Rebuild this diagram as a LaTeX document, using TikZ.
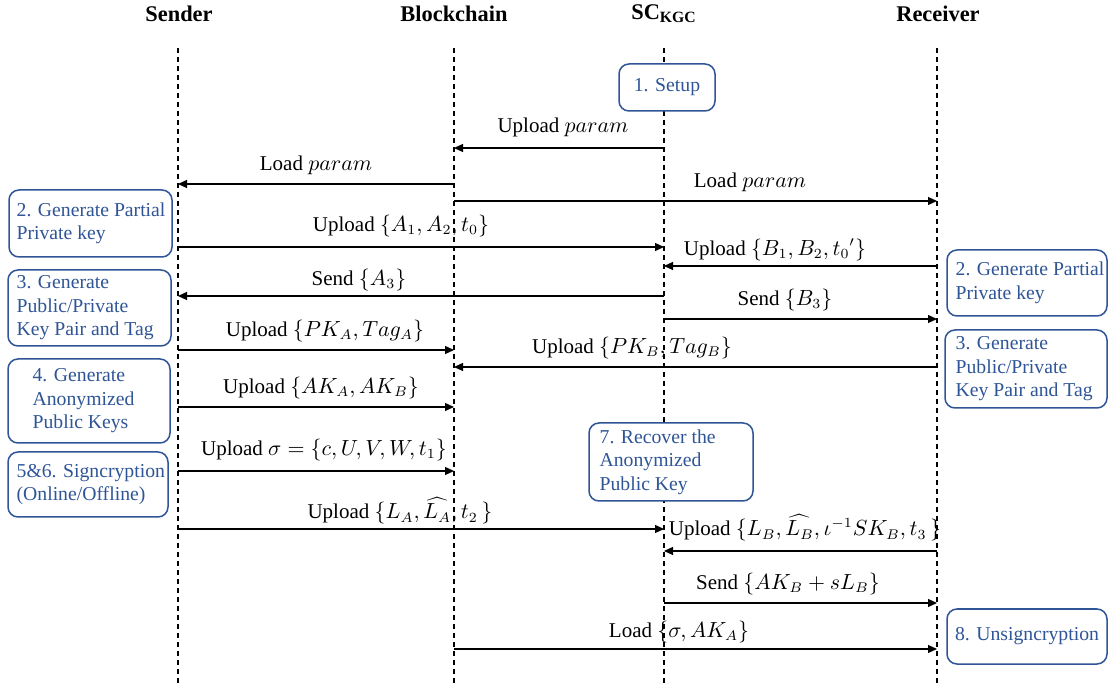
\documentclass[tikz,border=0pt]{standalone}
\usepackage{fontspec}
\setmainfont{Liberation Serif}
\usetikzlibrary{arrows.meta}
\definecolor{stepblue}{HTML}{2F5597}
\tikzset{
  head/.style={font=\fontsize{11.2}{13}\selectfont\bfseries, inner sep=0pt},
  life/.style={line width=0.6pt, dash pattern=on 2.5pt off 2pt},
  msg/.style={line width=0.6pt, -{Triangle[length=4.5pt,width=4pt]}},
  msglabel/.style={font=\fontsize{10.5}{12}\selectfont, inner sep=0pt},
  stepbox/.style={draw=stepblue, line width=0.75pt, rounded corners=5pt, fill=white,
    inner sep=0pt, text=stepblue, font=\fontsize{9.85}{11.75}\selectfont},
  steptext/.style={text=stepblue, font=\fontsize{9.85}{11.75}\selectfont, align=left,
    inner sep=0pt, anchor=west},
}
\begin{document}
\begin{tikzpicture}[x=0.5pt,y=-0.5pt]
\useasboundingbox (0,0) rectangle (1110,684);

% participants
\node[head] (snd) at (179,14) {Sender};
\node[head] (bc)  at (454,14) {Blockchain};
\node[head] (kgc) at (664,14) {SC\textsubscript{KGC}};
\node[head] (rcv) at (938,14) {Receiver};

% lifelines
\coordinate (sndL) at (178,0);
\coordinate (bcL)  at (454,0);
\coordinate (kgcL) at (664,0);
\coordinate (rcvL) at (937,0);
\foreach \p in {sndL,bcL,kgcL,rcvL}
  \draw[life] (\p |- 0,48) -- (\p |- 0,684);

% step boxes
\node[stepbox, minimum width=48pt, minimum height=23.5pt] (setup) at (667,87.5) {1. Setup};

\node[stepbox, minimum width=81.5pt, minimum height=33.5pt] (sPPK) at (90.5,223.5) {};
\node[steptext] (sPPKt) at ([xshift=4pt]sPPK.west) {2. Generate Partial\\Private key};

\node[stepbox, minimum width=81.5pt, minimum height=38pt] (sKP) at (89.5,308) {};
\node[steptext] (sKPt) at ([xshift=4.5pt]sKP.west) {3. Generate\\Public/Private\\Key Pair and Tag};

\node[stepbox, minimum width=81pt, minimum height=42pt] (sAK) at (89,401) {};
\node[steptext] (sAKt) at ([xshift=12.5pt]sAK.west) {4. Generate\\Anonymized\\Public Keys};

\node[stepbox, minimum width=80pt, minimum height=32.5pt] (sSC) at (88,484.5) {};
\node[steptext] (sSCt) at ([xshift=4.5pt]sSC.west) {5\&6. Signcryption\\(Online/Offline)};

\node[stepbox, minimum width=82pt, minimum height=39pt] (kRec) at (671,462) {};
\node[steptext] (kRect) at ([xshift=5.5pt]kRec.west) {7. Recover the\\Anonymized\\Public Key};

\node[stepbox, minimum width=80pt, minimum height=33pt] (rPPK) at (1027,283) {};
\node[steptext] (rPPKt) at ([xshift=4.5pt]rPPK.west) {2. Generate Partial\\Private key};

\node[stepbox, minimum width=81pt, minimum height=39pt] (rKP) at (1026,369) {};
\node[steptext] (rKPt) at ([xshift=5.5pt]rKP.west) {3. Generate\\Public/Private\\Key Pair and Tag};

\node[stepbox, minimum width=80pt, minimum height=27.5pt] (rUn) at (1027,636.5) {8. Unsigncryption};

% messages
\draw[msg] (kgcL |- 0,148) -- (bcL |- 0,148);
\draw[msg] (bcL |- 0,184) -- (sndL |- 0,184);
\draw[msg] (bcL |- 0,201) -- (rcvL |- 0,201);
\draw[msg] (sndL |- 0,247) -- (kgcL |- 0,247);
\draw[msg] (rcvL |- 0,266) -- (kgcL |- 0,266);
\draw[msg] (kgcL |- 0,296) -- (sndL |- 0,296);
\draw[msg] (kgcL |- 0,319) -- (rcvL |- 0,319);
\draw[msg] (sndL |- 0,350) -- (bcL |- 0,350);
\draw[msg] (rcvL |- 0,367) -- (bcL |- 0,367);
\draw[msg] (sndL |- 0,407) -- (bcL |- 0,407);
\draw[msg] (sndL |- 0,471) -- (bcL |- 0,471);
\draw[msg] (sndL |- 0,529) -- (kgcL |- 0,529);
\draw[msg] (rcvL |- 0,551) -- (kgcL |- 0,551);
\draw[msg] (kgcL |- 0,603) -- (rcvL |- 0,603);
\draw[msg] (bcL |- 0,649) -- (rcvL |- 0,649);

% message labels
\node[msglabel] (m1)  at (563,127) {Upload $param$};
\node[msglabel] (m2)  at (316,165) {Load $param$};
\node[msglabel] (m3)  at (750,182) {Load $param$};
\node[msglabel] (m4)  at (401,226) {Upload $\{A_1, A_2, t_0\}$};
\node[msglabel] (m5)  at (775,250) {Upload $\{B_1, B_2, {t_0}'\}$};
\node[msglabel] (m6)  at (359,280) {Send $\{A_3\}$};
\node[msglabel] (m7)  at (785,300) {Send $\{B_3\}$};
\node[msglabel] (m8)  at (325,331) {Upload $\{PK_A, Tag_A\}$};
\node[msglabel] (m9)  at (632,348) {Upload $\{PK_B, Tag_B\}$};
\node[msglabel] (m10) at (321,388) {Upload $\{AK_A, AK_B\}$};
\node[msglabel] (m11) at (324,450) {Upload $\sigma = \{c, U, V, W, t_1\}$};
\node[msglabel] (m12) at (400,511) {Upload $\{L_A, \widehat{L_A}, t_2\,\}$};
\node[msglabel] (m13) at (805,528) {Upload $\{L_B, \widehat{L_B}, \iota^{-1}SK_B, t_3\,\}$};
\node[msglabel] (m14) at (788,584) {Send $\{AK_B + sL_B\}$};
\node[msglabel] (m15) at (679,632) {Load $\{\sigma, AK_A\}$};
\end{tikzpicture}
\end{document}
